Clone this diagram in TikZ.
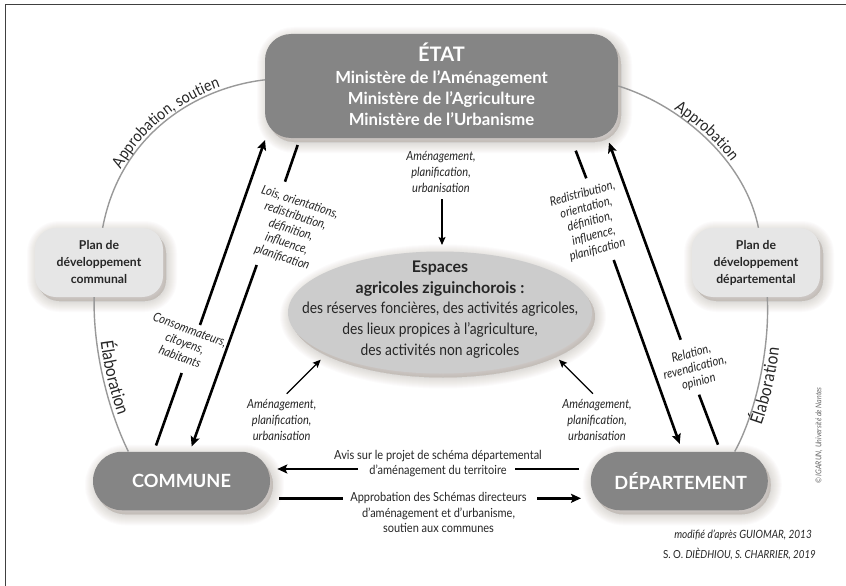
\documentclass[tikz,border=0pt]{standalone}
\usepackage{fontspec}
\setmainfont{Lato}[FakeStretch=0.88,BoldFeatures={FakeStretch=1}]
\usetikzlibrary{arrows.meta,decorations.text,shapes.geometric}
\definecolor{boxdark}{HTML}{858585}
\definecolor{boxlight}{HTML}{E6E6E6}
\definecolor{ellfill}{HTML}{CCCCCC}
\definecolor{arcgrey}{HTML}{999999}
\definecolor{shc}{HTML}{6E5E54}
\definecolor{inktext}{HTML}{262626}
\newcommand\fsz[2]{\fontsize{#1}{#2}\selectfont}
\tikzset{
  shlayer/.style={preaction={draw=shc,fill=shc,line width=#1,opacity=.018,line join=round,transform canvas={xshift=3pt,yshift=-4pt}}},
  softshadow/.style={shlayer=22pt,shlayer=20pt,shlayer=18pt,shlayer=16pt,shlayer=14pt,shlayer=12pt,shlayer=10pt,shlayer=8pt,shlayer=6pt,shlayer=4pt,shlayer=2pt},
  darkbox/.style={softshadow,fill=boxdark,text=white,rounded corners=#1,inner sep=0pt,align=center,font=\bfseries},
  planbox/.style={softshadow,fill=boxlight,text=inktext,rounded corners=21pt,minimum width=128pt,minimum height=69pt,inner sep=0pt,align=center,font=\fsz{12.2}{17}\bfseries},
  ital/.style={text=inktext,align=center,font=\fsz{12.6}{15.8}\itshape,inner sep=0pt},
  italtight/.style={ital,font=\fsz{12.6}{14.5}\itshape},
  plaintxt/.style={text=inktext,align=center,font=\fsz{12.5}{15.5},inner sep=0pt},
  heavy/.style={draw=black,line width=2.6pt},
  heavytip/.style={heavy,-{Stealth[length=10pt,width=9pt,inset=2pt]}},
  thintip/.style={draw=black,line width=1.2pt,-{Stealth[length=8pt,width=7pt,inset=1.5pt]}},
  arcline/.style={draw=arcgrey,line width=1.4pt},
  arclabel/.style n args={4}{postaction={decorate,decoration={text along path,raise=#1,
      text align={left indent=#2},
      text={|\fsz{#3}{16}\color{inktext}|#4}}}},
}
\begin{document}
\begin{tikzpicture}[x=1pt,y=-1pt]
\useasboundingbox (0,0) rectangle (846,586);
\fill[white] (0,0) rectangle (846,586);
\draw[draw=black!75,line width=1.2pt] (5.6,586) -- (5.6,4.4) -- (846,4.4);

% main nodes
\node[darkbox=26pt,minimum width=353pt,minimum height=104pt] (etat) at (441.5,86) {};
\node[text=white,align=center,inner sep=0pt,font=\fsz{16.7}{21.2}\bfseries] (etattext) at (441.5,84.5)
  {\fsz{20}{23}ÉTAT\\\fsz{16.7}{21.2}Ministère de l’Aménagement\\\fsz{16.7}{21.2}Ministère de l’Agriculture\\\fsz{16.7}{21.2}Ministère de l’Urbanisme};
\node[darkbox=29pt,minimum width=177pt,minimum height=58.5pt,font=\fsz{18.2}{20}\bfseries] (commune) at (181.5,481) {COMMUNE};
\node[darkbox=29pt,minimum width=177pt,minimum height=58.5pt,font=\fsz{18.2}{20}\bfseries] (dept) at (679.3,481) {\hspace*{3pt}DÉPARTEMENT};
\node[planbox] (planc) at (99,262.5) {Plan de\\développement\\communal};
\node[planbox] (pland) at (756,262.5) {Plan de\\développement\\départemental};
\node[ellipse,softshadow,fill=ellfill,minimum width=304pt,minimum height=122pt,inner sep=0pt] (espaces) at (440,312.5) {};
\node[text=inktext,align=center,inner sep=0pt,font=\fsz{15.7}{20.8}] (espacestext) at (440,309.5)
  {\bfseries\fsz{16}{20.8}Espaces\\\bfseries\fsz{16}{20.8}agricoles ziguinchorois :\\des réserves foncières, des activités agricoles,\\des lieux propices à l’agriculture,\\des activités non agricoles};

% grey arcs with their labels
\draw[arcline,arclabel={3pt}{61pt}{16}{Approbation, soutien}] (planc.84) .. controls (120,135) and (195,88) .. (etat.178);
\draw[arcline,arclabel={3pt}{60pt}{16}{Approbation}] (etat.east) .. controls (680,105) and (745,160) .. (pland.86);
\draw[arcline,arclabel={4pt}{45pt}{17.5}{Élaboration}] (planc.262) .. controls (93,350) and (108,410) .. (commune.151);
\draw[arcline,arclabel={-14pt}{33pt}{17.5}{Élaboration}] (dept.28) .. controls (755,415) and (770,350) .. (pland.288);

% heavy arrows
\coordinate (ca1) at (156,445.5);  \coordinate (ca2) at (181.7,373);
\coordinate (ca3) at (200,325);    \coordinate (ca4) at (265,140);
\draw[heavy] (ca1) -- (ca2);
\draw[heavytip] (ca3) -- (ca4);
\coordinate (cb1) at (297.7,145);  \coordinate (cb2) at (285,181.7);
\coordinate (cb3) at (256.7,265);  \coordinate (cb4) at (191.7,446.5);
\draw[heavy] (cb1) -- (cb2);
\draw[heavytip] (cb3) -- (cb4);
\coordinate (da1) at (575.7,150.7); \coordinate (da2) at (586.3,178.3);
\coordinate (da3) at (613.7,260);   \coordinate (da4) at (679.7,444);
\draw[heavy] (da1) -- (da2);
\draw[heavytip] (da3) -- (da4);
\coordinate (db1) at (718,444.7);   \coordinate (db2) at (699,394.7);
\coordinate (db3) at (680.7,339.7); \coordinate (db4) at (609,142.7);
\draw[heavy] (db1) -- (db2);
\draw[heavytip] (db3) -- (db4);

% horizontal arrows
\coordinate (av1) at (579,469);   \coordinate (av2) at (514.7,469);
\coordinate (av3) at (358,469);   \coordinate (av4) at (277.3,469);
\draw[heavy] (av1) -- (av2);
\draw[heavytip] (av3) -- (av4);
\coordinate (ap1) at (279.3,498.3); \coordinate (ap2) at (343.3,498.3);
\coordinate (ap3) at (537,498.3);   \coordinate (ap4) at (581,498.3);
\draw[heavy] (ap1) -- (ap2);
\draw[heavytip] (ap3) -- (ap4);

% thin arrows towards the ellipse
\coordinate (t1) at (442,199);
\coordinate (t2) at (286.7,393.7);
\coordinate (t3) at (593,393.7);
\coordinate (t4) at (320.7,359.7);
\coordinate (t5) at (559,359.7);
\coordinate (t6) at (442,245);
\draw[thintip] (t1) -- (t6);
\draw[thintip] (t2) -- (t4);
\draw[thintip] (t3) -- (t5);

% labels
\node[ital] (l1) at (441,172) {Aménagement,\\planification,\\urbanisation};
\node[ital] (l2) at (281.7,420) {Aménagement,\\planification,\\urbanisation};
\node[ital] (l3) at (597,420) {Aménagement,\\planification,\\urbanisation};
\node[italtight,rotate=-18] (l4) at (291,230) {Lois, orientations,\\redistribution,\\définition,\\influence,\\planification};
\node[italtight,rotate=-20] (l5) at (185,343) {Consommateurs,\\citoyens,\\habitants};
\node[italtight,rotate=15] (l6) at (590,222) {Redistribution,\\orientation,\\définition,\\influence,\\planification};
\node[italtight,rotate=15] (l7) at (695,368) {Relation,\\revendication,\\opinion};
\node[plaintxt] (l8) at (438,463.5) {Avis sur le projet de schéma départemental\\d’aménagement du territoire};
\node[plaintxt] (l9) at (438.5,512.5) {Approbation des Schémas directeurs\\d’aménagement et d’urbanisme,\\soutien aux communes};
\node[ital,anchor=east,font=\fsz{11.4}{12}\itshape] (s1) at (812,534.7) {modifié d’après GUIOMAR, 2013};
\node[ital,anchor=east,font=\fsz{11.1}{12}] (s2) at (816,553.7) {S. O. \textit{DIÈDHIOU, S. CHARRIER, 2019}};
\node[ital,rotate=90,text=black!60,font=\fsz{8}{9}\itshape] (s3) at (819,435.5) {© IGARUN, Université de Nantes};
\end{tikzpicture}
\end{document}
